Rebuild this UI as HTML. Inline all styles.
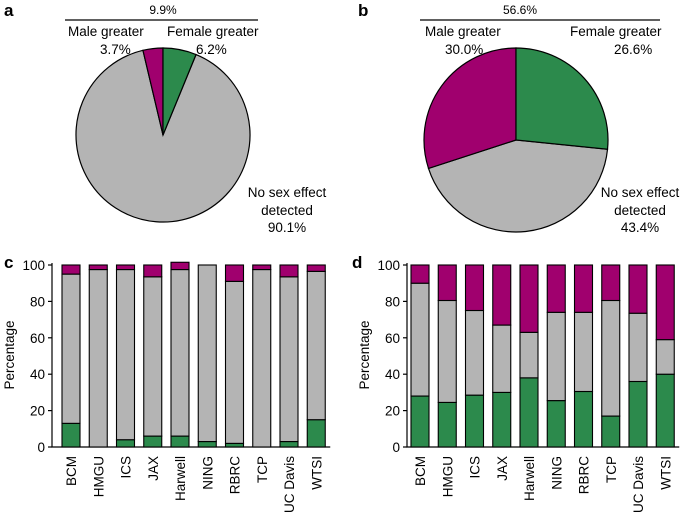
<!DOCTYPE html>
<html><head><meta charset="utf-8"><style>
body{margin:0;background:#fff}
svg{font-family:"Liberation Sans",Arial,sans-serif}
</style></head><body>
<svg width="685" height="517" viewBox="0 0 685 517" id="fig">
<g font-size="13.5" fill="#000">
<text x="4" y="16" font-weight="bold" font-size="17">a</text>
<text x="358" y="16" font-weight="bold" font-size="17">b</text>
<text x="4" y="268" font-weight="bold" font-size="17">c</text>
<text x="352" y="268" font-weight="bold" font-size="17">d</text>
<text x="163" y="14" text-anchor="middle" font-size="12">9.9%</text>
<line x1="65" y1="20" x2="258" y2="20" stroke="#000" stroke-width="1.2"/>
<text x="68" y="36">Male greater</text>
<text x="100" y="54">3.7%</text>
<text x="167" y="36">Female greater</text>
<text x="196" y="54">6.2%</text>
<g text-anchor="middle">
<text x="287" y="197">No sex effect</text><text x="287" y="215">detected</text><text x="287" y="232">90.1%</text></g>
<text x="520" y="14" text-anchor="middle" font-size="12">56.6%</text>
<line x1="420" y1="20" x2="660" y2="20" stroke="#000" stroke-width="1.2"/>
<text x="425" y="36">Male greater</text>
<text x="445" y="54">30.0%</text>
<text x="570" y="36">Female greater</text>
<text x="614" y="54">26.6%</text>
<g text-anchor="middle">
<text x="640" y="197">No sex effect</text><text x="640" y="215">detected</text><text x="640" y="232">43.4%</text></g>
</g>
<g id="pies"></g><g id="bars"></g>
</svg>
<script>
const pieA = [3.7, 6.2, 90.1];
const pieB = [30.0, 26.6, 43.4];
const stations = ["BCM","HMGU","ICS","JAX","Harwell","NING","RBRC","TCP","UC Davis","WTSI"];
const cGreen = [13,0,4,6,6,3,2,0,3,15];
const cGray = [82,97.5,93.5,87.5,91.5,97,89,97.5,90.5,81.5];
const cMagenta = [5,2.5,2.5,6.5,4,0,9,2.5,6.5,3.5];
const dGreen = [28,24.5,28.5,30,38,25.5,30.5,17,36,40];
const dGray = [62,56,46.5,37,25,48.5,43.5,63.5,37.5,19];
const dMagenta = [10,19.5,25,33,37,26,26,19.5,26.5,41];
const yTicks = [0,20,40,60,80,100];
const COL = {m:"#a0006e", g:"#2c8a4c", n:"#b4b4b4"};
const NS="http://www.w3.org/2000/svg";
function mk(t,a,p){const e=document.createElementNS(NS,t);for(const k in a)e.setAttribute(k,a[k]);p.appendChild(e);return e;}
const pies=document.getElementById('pies'), bars=document.getElementById('bars');
function pt(cx,cy,r,deg){const a=(deg-90)*Math.PI/180;return [cx+r*Math.cos(a),cy+r*Math.sin(a)];}
function wedge(cx,cy,r,a0,a1,fill,name){
  const p0=pt(cx,cy,r,a0),p1=pt(cx,cy,r,a1),large=(a1-a0)>180?1:0;
  const e=mk('path',{d:`M${cx},${cy}L${p0[0]},${p0[1]}A${r},${r} 0 ${large} 1 ${p1[0]},${p1[1]}Z`,fill:fill,stroke:"#000","stroke-width":1.2},pies);
  
  
}
function pie(vals,cx,cy,r,pre){
  const m=vals[0]*3.6,g=vals[1]*3.6;
  wedge(cx,cy,r,g,360-m,COL.n,pre+'-slice-none');
  wedge(cx,cy,r,-m,0,COL.m,pre+'-slice-male');
  wedge(cx,cy,r,0,g,COL.g,pre+'-slice-female');
}
pie(pieA,163,135,87,'pie-a');
pie(pieB,516,140,92,'pie-b');
function chart(pre,axX,x0,green,gray,mag){
  const y=v=>447-v*1.82, step=27.25, bw=18;
  const ax=mk('path',{d:`M${axX},263V447H${x0+9*step+bw+5}`,fill:"none",stroke:"#000","stroke-width":1.2},bars);
  
  
  yTicks.forEach(t=>{
    const l=mk('line',{x1:axX-4,x2:axX,y1:y(t),y2:y(t),stroke:"#000","stroke-width":1.2},bars);
    
    
    const tx=mk('text',{x:axX-7,y:y(t)+5,"text-anchor":"end","font-size":13.5},bars);tx.textContent=t;
    
    
  });
  const yt=mk('text',{transform:`translate(${axX-38},355) rotate(-90)`,"text-anchor":"middle","font-size":13.5},bars);yt.textContent="Percentage";
  
  
  stations.forEach((s,i)=>{
    const x=x0+i*step;let base=0;
    [[green[i],COL.g,'green'],[gray[i],COL.n,'gray'],[mag[i],COL.m,'magenta']].forEach(([v,c,n])=>{
      if(v>0){const r=mk('rect',{x:x,y:y(base+v),width:bw,height:v*1.82,fill:c,stroke:"#000","stroke-width":1.1},bars);
      
      }
      base+=v;
    });
    const t=mk('text',{transform:`translate(${x+bw/2+5},456) rotate(-90)`,"text-anchor":"end","font-size":13.5},bars);t.textContent=s;
    
    
  });
}
chart('chart-c',52,62,cGreen,cGray,cMagenta);
chart('chart-d',407,411,dGreen,dGray,dMagenta);
</script>
</body></html>
